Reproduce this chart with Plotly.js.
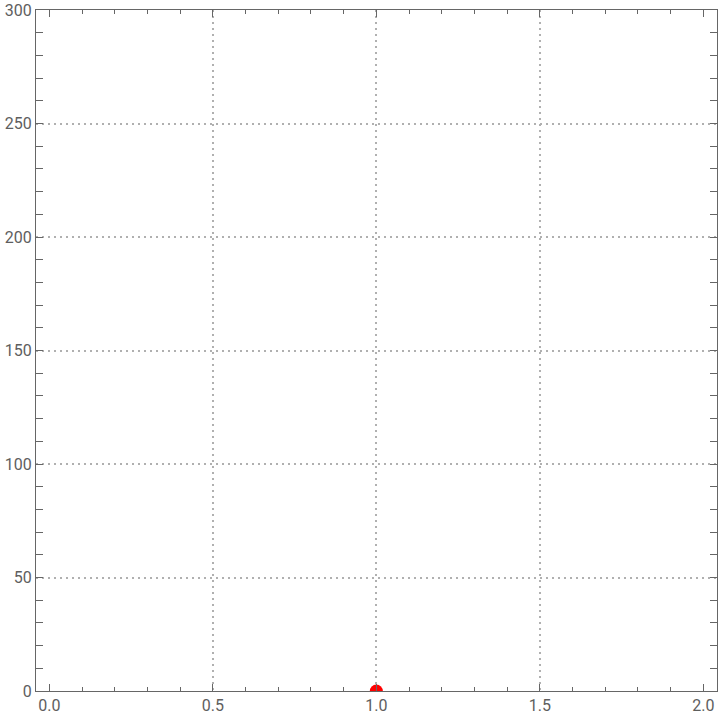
<!DOCTYPE html>
<html>
<head>
<meta charset="utf-8">
<script src="https://cdn.plot.ly/plotly-3.0.1.min.js"></script>
<style>html,body{margin:0;padding:0;background:#fff;}#chart{width:720px;height:722px;}</style>
</head>
<body>
<div id="chart"></div>
<script>
// Data
const pointX = [1.0];
const pointY = [0];
const xGridValues = [0.5, 1.0, 1.5];
const xTickValues = [0, 0.5, 1.0, 1.5, 2.0];
const xTickLabels = ["0.0", "0.5", "1.0", "1.5", "2.0"];
const yTickValues = [0, 50, 100, 150, 200, 250, 300];
const yTickLabels = ["0", "50", "100", "150", "200", "250", "300"];

const axisColor = '#666666';
const gridColor = '#b0b0b0';
const gridDash = '2px,4px';
const tickFont = {family: 'Roboto, sans-serif', size: 16, color: '#5e5e5e'};

const traces = [{
  x: pointX, y: pointY, type: 'scatter', mode: 'markers',
  marker: {color: '#ff0000', size: 13},
  cliponaxis: true, hoverinfo: 'skip', showlegend: false
}];

const layout = {
  width: 720, height: 722,
  margin: {l: 36, r: 3, t: 10, b: 31, pad: 0},
  paper_bgcolor: '#ffffff', plot_bgcolor: '#ffffff',
  showlegend: false,
  xaxis: {
    range: [-0.041, 2.042], tickmode: 'array', tickvals: xTickValues, ticktext: xTickLabels,
    ticks: 'inside', ticklen: 7, tickwidth: 1, tickcolor: axisColor,
    showline: true, linecolor: axisColor, linewidth: 1, mirror: 'allticks',
    showgrid: false, zeroline: false, tickfont: tickFont,
    minor: {dtick: 0.1, tick0: 0, ticks: 'inside', ticklen: 4, tickcolor: axisColor, showgrid: false}
  },
  xaxis2: {
    range: [-0.041, 2.042], overlaying: 'x', tickmode: 'array', tickvals: xGridValues,
    showticklabels: false, ticks: '', showgrid: true, gridcolor: gridColor, griddash: gridDash, gridwidth: 2,
    zeroline: false, showline: false
  },
  yaxis: {
    range: [0, 300], tickmode: 'array', tickvals: yTickValues, ticktext: yTickLabels,
    ticks: 'inside', ticklen: 7, tickwidth: 1, tickcolor: axisColor,
    showline: true, linecolor: axisColor, linewidth: 1, mirror: 'allticks',
    showgrid: true, gridcolor: gridColor, griddash: gridDash, gridwidth: 2,
    zeroline: false, tickfont: tickFont,
    minor: {dtick: 10, tick0: 0, ticks: 'inside', ticklen: 4, tickcolor: axisColor, showgrid: false}
  }
};

traces.push({x: [], y: [], xaxis: 'x2', yaxis: 'y', type: 'scatter', showlegend: false, hoverinfo: 'skip'});

Plotly.newPlot('chart', traces, layout, {staticPlot: true});
</script>
</body>
</html>
